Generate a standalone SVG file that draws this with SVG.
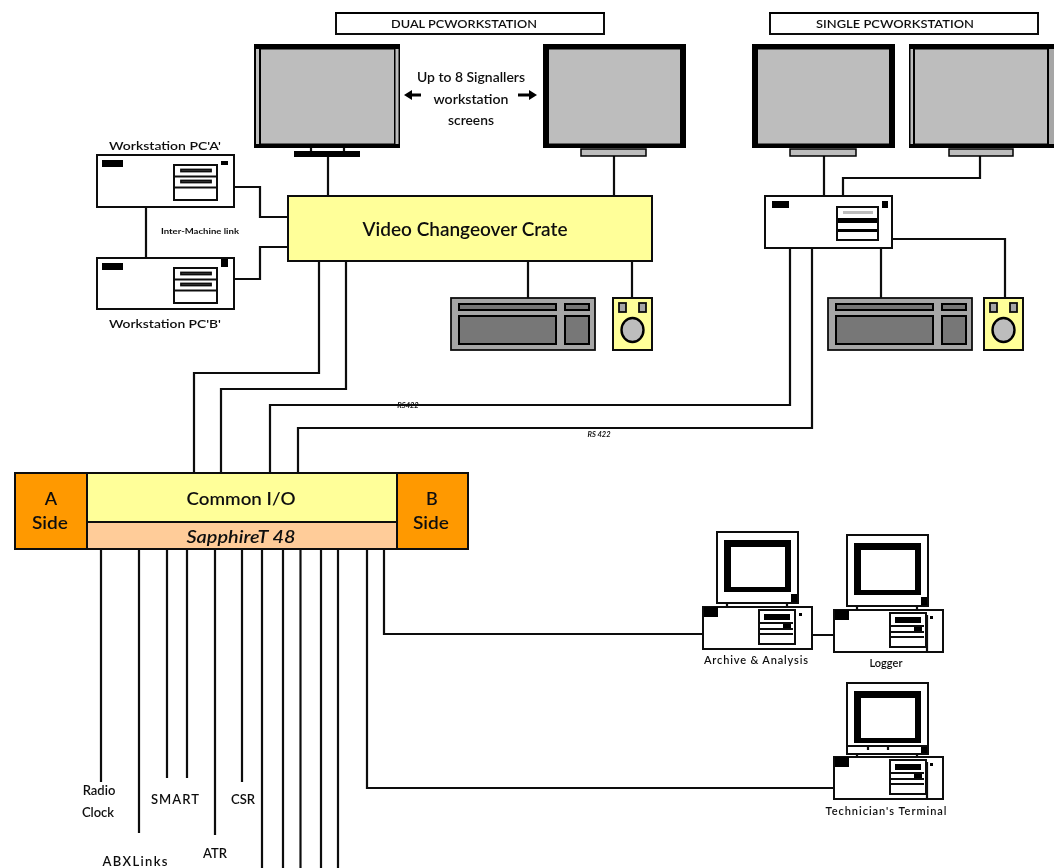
<svg xmlns="http://www.w3.org/2000/svg" width="1059" height="868" viewBox="0 0 1059 868">
<style>
text{font-family:"Lato","Noto Sans","Liberation Sans",sans-serif;fill:#111;text-anchor:middle}
.l{fill:none;stroke:#111;stroke-width:2.2}
.b{fill:#fff;stroke:#111;stroke-width:2}
.k{fill:#000;stroke:none}
.s{fill:#bdbdbd;stroke:#000;stroke-width:1.5}
.g{fill:#a6a6a6;stroke:#111;stroke-width:1.8}
.d{fill:#777;stroke:#000;stroke-width:2}
.y{fill:#ffff99;stroke:#111;stroke-width:2}
.o{fill:#ff9900;stroke:#111;stroke-width:2}
.p{fill:#ffcc99;stroke:#111;stroke-width:2}
.t{font-size:12px}
.u{font-size:13.500px;font-weight:600}
.m{font-size:13px}
.h{font-size:18px}
</style>
<defs>
<filter id="soft" filterUnits="userSpaceOnUse" x="0" y="0" width="1059" height="868"><feGaussianBlur stdDeviation="0.5"/></filter>
<g id="screen">
<rect x="0" y="0" width="143" height="104" fill="#000"/>
<rect x="6" y="5.500" width="131" height="94" fill="#bdbdbd"/>
</g>
<g id="drive">
<rect class="b" x="0" y="0" width="43" height="35"/>
<path class="l" d="M0 11.500H43M0 22.500H43"/>
<rect class="g" x="7" y="4.500" width="30" height="2"/>
<rect class="g" x="7" y="15.500" width="30" height="2"/>
</g>
<g id="kbd">
<rect class="g" x="0" y="0" width="144" height="52"/>
<rect class="d" x="8" y="6" width="97" height="6"/>
<rect class="d" x="114" y="6" width="24" height="6"/>
<rect class="d" x="8" y="18" width="97" height="28"/>
<rect class="d" x="114" y="18" width="24" height="28"/>
</g>
<g id="spk">
<rect class="y" x="0" y="0" width="39" height="52"/>
<rect class="g" x="6" y="5" width="7" height="9"/>
<rect class="g" x="26" y="5" width="7" height="9"/>
<ellipse cx="19.500" cy="32" rx="11" ry="12" fill="#bdbdbd" stroke="#000" stroke-width="2.400"/>
</g>
<g id="pcbase">
<rect class="b" x="0" y="0" width="109" height="42"/>
<rect class="k" x="1" y="0" width="14" height="10"/>
<rect class="b" x="56" y="3" width="36" height="34"/>
<rect class="k" x="61" y="7" width="26" height="6"/>
<path class="l" d="M57 16H90M57 22H90M57 27H90" stroke-width="1.500"/>
<rect class="k" x="80" y="17" width="8" height="4"/>
<rect class="k" x="96" y="6" width="3" height="3"/>
</g>
<g id="pcmon">
<rect class="b" x="0" y="0" width="81" height="71"/>
<path class="k" d="M7 8H74V60H7ZM14 15V55H68V15Z" fill-rule="evenodd"/>
<rect class="k" x="74" y="62" width="6" height="8"/>
<path class="l" d="M10 71V75M70 71V75" stroke-width="1.600"/>
</g>
</defs>

<g filter="url(#soft)">
<g id="connectors">
<path class="l" d="M328 156V196M614 156V196M824 156V196M980 156V178H843V196"/>
<path class="l" d="M234 187H260V217H288M234 279H260V247H288M146 207V258"/>
<path class="l" d="M319 261V373H194V473M346 261V389H221V473"/>
<path class="l" d="M528 261V298M632 261V298M881 248V298M892 239H1005V298"/>
<path class="l" d="M790 248V405H270V473M812 248V428H298V473"/>
<path class="l" d="M101 549V782M139 549V833M167 549V778M187 549V778M215 549V835M242 549V782"/>
<path class="l" d="M262 549V868M283 549V868M300.500 549V868M321 549V868M338 549V868"/>
<path class="l" d="M367 549V788H834M384 549V634H703M812 635H834"/>
<path d="M404 95L412 90V93.500H421V96.500H412V100Z" fill="#000"/>
<path d="M537 95L529 90V93.500H518V96.500H529V100Z" fill="#000"/>
</g>

<g id="dual-banner"><rect class="b" x="336" y="13" width="268" height="21"/><rect class="k" x="335" y="12" width="270" height="2"/><text x="464" y="28" class="t" font-weight="600" textLength="146" lengthAdjust="spacingAndGlyphs">DUAL PCWORKSTATION</text></g>
<g id="single-banner"><rect class="b" x="770" y="13" width="268" height="21"/><rect class="k" x="769" y="12" width="270" height="2"/><text x="895" y="28" class="t" font-weight="600" textLength="158" lengthAdjust="spacingAndGlyphs">SINGLE PCWORKSTATION</text></g>

<g id="monitor-1">
<rect x="254" y="44" width="146" height="104" fill="#000"/>
<rect x="261" y="49.500" width="133" height="94" fill="#bdbdbd"/>
<rect x="256" y="49" width="3" height="95" fill="#bdbdbd"/>
<rect x="395.500" y="49" width="3" height="95" fill="#bdbdbd"/>
<path class="l" d="M311 148V152M344 148V152"/>
<rect class="k" x="294" y="151" width="66" height="6"/>
</g>
<g id="monitor-2">
<use href="#screen" x="543" y="44"/>
<rect class="s" x="581" y="149" width="65" height="7"/>
</g>
<g id="monitor-3">
<use href="#screen" x="752" y="44"/>
<rect class="s" x="790" y="149" width="66" height="7"/>
</g>
<g id="monitor-4">
<rect x="909" y="44" width="145" height="104" fill="#000"/>
<rect x="915" y="49.500" width="132" height="94" fill="#bdbdbd"/>
<rect x="910.500" y="49" width="2.500" height="95" fill="#bdbdbd"/>
<rect x="1049" y="49" width="5" height="95" fill="#a6a6a6"/>
<rect class="s" x="949" y="149" width="64" height="7"/>
</g>

<text x="471" y="82" class="u" textLength="108" lengthAdjust="spacingAndGlyphs">Up to 8 Signallers</text>
<text x="471" y="104" class="u" textLength="75" lengthAdjust="spacingAndGlyphs">workstation</text>
<text x="471" y="125" class="u" textLength="46" lengthAdjust="spacingAndGlyphs">screens</text>

<g id="workstation-a">
<text x="165" y="150" class="t" font-weight="600" textLength="112" lengthAdjust="spacingAndGlyphs">Workstation PC'A'</text>
<rect class="b" x="97" y="155" width="137" height="52"/>
<rect class="k" x="102" y="160" width="21" height="7"/>
<rect class="k" x="221" y="161" width="7" height="4"/>
<use href="#drive" x="174" y="165"/>
</g>
<g id="workstation-b">
<rect class="b" x="97" y="258" width="137" height="51"/>
<rect class="k" x="102" y="263" width="21" height="7"/>
<rect class="k" x="221" y="259" width="7" height="8"/>
<use href="#drive" x="174" y="268"/>
<text x="165" y="328" class="t" font-weight="600" textLength="112" lengthAdjust="spacingAndGlyphs">Workstation PC'B'</text>
</g>
<text x="200" y="234" font-size="7" font-weight="700" textLength="78" lengthAdjust="spacingAndGlyphs">Inter-Machine link</text>

<g id="video-crate"><rect class="y" x="288" y="196" width="364" height="65"/><text x="465" y="236" font-size="19" font-weight="600">Video Changeover Crate</text></g>

<g id="keyboard-1"><use href="#kbd" x="451" y="298"/></g>
<g id="speaker-1"><use href="#spk" x="613" y="298"/></g>

<g id="single-pc">
<rect class="b" x="765" y="196" width="127" height="52"/>
<rect class="k" x="772" y="201" width="17" height="7"/>
<rect class="k" x="882" y="201" width="6" height="7"/>
<rect class="b" x="837" y="207" width="41" height="33"/>
<rect class="k" x="838" y="218" width="39" height="5"/>
<rect class="k" x="838" y="229" width="39" height="3"/>
<rect fill="#bdbdbd" x="843" y="211" width="30" height="3"/>
</g>
<g id="keyboard-2"><use href="#kbd" x="828" y="298"/></g>
<g id="speaker-2"><use href="#spk" x="984" y="298"/></g>

<text x="408" y="408" font-size="7.500" font-weight="700" font-style="italic">RS422</text>
<text x="599" y="437" font-size="7.500" font-weight="700" font-style="italic">RS 422</text>

<g id="sapphire">
<rect class="y" x="87" y="473" width="310" height="49"/>
<rect class="p" x="87" y="522" width="310" height="27"/>
<rect class="o" x="15" y="473" width="72" height="76"/>
<rect class="o" x="397" y="473" width="71" height="76"/>
<text x="241" y="505" class="h" font-weight="600" textLength="109" lengthAdjust="spacingAndGlyphs">Common I/O</text>
<text x="241" y="543" font-size="18" font-style="italic" font-weight="600" textLength="109" lengthAdjust="spacingAndGlyphs">SapphireT 48</text>
<text x="51" y="505" class="h" font-weight="600">A</text>
<text x="50" y="529" class="h" font-weight="600" textLength="36" lengthAdjust="spacingAndGlyphs">Side</text>
<text x="432" y="505" class="h" font-weight="600">B</text>
<text x="431" y="529" class="h" font-weight="600" textLength="36" lengthAdjust="spacingAndGlyphs">Side</text>
</g>

<g id="archive"><use href="#pcmon" x="717" y="532"/><use href="#pcbase" x="703" y="607"/><text x="756" y="664" font-size="11" font-weight="600" textLength="104" lengthAdjust="spacing">Archive &amp; Analysis</text></g>
<g id="logger"><use href="#pcmon" x="847" y="535"/><use href="#pcbase" x="834" y="610"/><line class="l" x1="927" y1="615" x2="927" y2="651" stroke-width="1.500"/><text x="886" y="667" font-size="11" font-weight="600">Logger</text></g>
<g id="technician"><use href="#pcmon" x="847" y="683"/><use href="#pcbase" x="834" y="757"/><line class="l" x1="927" y1="762" x2="927" y2="798" stroke-width="1.500"/><path class="l" d="M847 746H928M868 746V750M888 746V750" stroke-width="1.400"/><text x="886" y="815" font-size="11" font-weight="600" textLength="121" lengthAdjust="spacing">Technician's  Terminal</text></g>

<text x="99" y="795" class="m" font-weight="600">Radio</text>
<text x="98" y="817" class="m" font-weight="600">Clock</text>
<text x="175" y="804" class="m" font-weight="600" textLength="48" lengthAdjust="spacing">SMART</text>
<text x="243" y="804" class="m" font-weight="600">CSR</text>
<text x="135" y="866" class="m" font-weight="600" textLength="65" lengthAdjust="spacing">ABXLinks</text>
<text x="215" y="858" class="m" font-weight="600">ATR</text>
</g>
</svg>
